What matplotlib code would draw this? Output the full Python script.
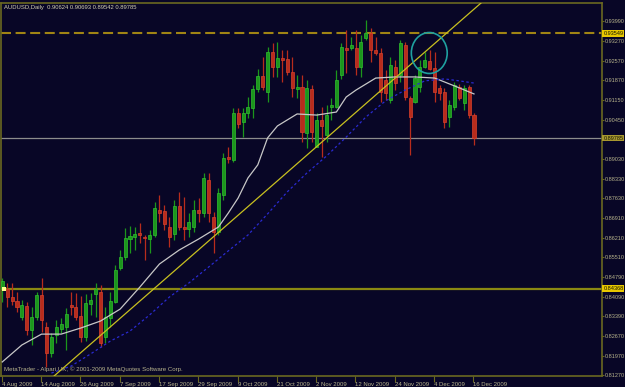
import matplotlib
matplotlib.use('Agg')
import matplotlib.pyplot as plt
from matplotlib.patches import Ellipse
import matplotlib.transforms as mtransforms
import numpy as np

plt.rcParams['font.family'] = ['Liberation Sans Narrow', 'Liberation Sans', 'DejaVu Sans']

# AUDUSD daily bars, 4 Aug 2009 .. 16 Dec 2009
opens = [0.8436, 0.8436, 0.8407, 0.8393, 0.8336, 0.8375, 0.8289, 0.8336, 0.8415, 0.8300,
         0.8206, 0.8271, 0.8292, 0.8300, 0.8379, 0.8371, 0.8339, 0.8264, 0.8382, 0.8418,
         0.8425, 0.8264, 0.8332, 0.8389, 0.8512, 0.8551, 0.8616, 0.8623, 0.8637, 0.8623,
         0.8616, 0.8630, 0.8720, 0.8716, 0.8659, 0.8634, 0.8734, 0.8659, 0.8652, 0.8659,
         0.8720, 0.8709, 0.8828, 0.8695, 0.8641, 0.8774, 0.8910, 0.8900, 0.9069, 0.9036,
         0.9069, 0.9086, 0.9155, 0.9201, 0.9144, 0.9288, 0.9234, 0.9266, 0.9263, 0.9216,
         0.9155, 0.9162, 0.8997, 0.9155, 0.8946, 0.9043, 0.8989, 0.9090, 0.9090, 0.9205,
         0.9302, 0.9302, 0.9302, 0.9234, 0.9338, 0.9356, 0.9295, 0.9284, 0.9187, 0.9115,
         0.9234, 0.9205, 0.9313, 0.9122, 0.9108, 0.9162, 0.9234, 0.9255, 0.9230, 0.9158,
         0.9144, 0.9054, 0.9090, 0.9162, 0.9104, 0.9162, 0.90624]
highs = [0.8476, 0.8458, 0.8458, 0.8425, 0.8397, 0.8389, 0.8371, 0.8425, 0.8476, 0.8318,
         0.8278, 0.8325, 0.8332, 0.8368, 0.8425, 0.8422, 0.8411, 0.8418, 0.8422, 0.8458,
         0.8450, 0.8371, 0.8425, 0.8522, 0.8576, 0.8655, 0.8662, 0.8659, 0.8673, 0.8630,
         0.8648, 0.8749, 0.8774, 0.8738, 0.8695, 0.8756, 0.8785, 0.8767, 0.8709, 0.8756,
         0.8763, 0.8853, 0.8853, 0.8713, 0.8799, 0.8925, 0.8946, 0.9086, 0.9086, 0.9086,
         0.9126, 0.9169, 0.9227, 0.9270, 0.9306, 0.9320, 0.9324, 0.9295, 0.9295, 0.9270,
         0.9205, 0.9205, 0.9187, 0.9169, 0.9069, 0.9090, 0.9097, 0.9122, 0.9223, 0.9320,
         0.9367, 0.9342, 0.9367, 0.9349, 0.9403, 0.9374, 0.9342, 0.9302, 0.9223, 0.9270,
         0.9259, 0.9331, 0.9324, 0.9130, 0.9205, 0.9259, 0.9288, 0.9295, 0.9288, 0.9169,
         0.9158, 0.9115, 0.9180, 0.9173, 0.9169, 0.9169, 0.90693]
lows = [0.8389, 0.8371, 0.8379, 0.8353, 0.8325, 0.8271, 0.8235, 0.8325, 0.8282, 0.8156,
        0.8192, 0.8242, 0.8278, 0.8217, 0.8343, 0.8325, 0.8246, 0.8249, 0.8343, 0.8336,
        0.8228, 0.8242, 0.8300, 0.8386, 0.8504, 0.8540, 0.8565, 0.8576, 0.8601, 0.8540,
        0.8565, 0.8623, 0.8677, 0.8648, 0.8587, 0.8612, 0.8648, 0.8612, 0.8623, 0.8641,
        0.8677, 0.8695, 0.8677, 0.8565, 0.8630, 0.8756, 0.8889, 0.8892, 0.9015, 0.8982,
        0.9051, 0.9051, 0.9144, 0.9151, 0.9108, 0.9198, 0.9198, 0.9180, 0.9205, 0.9126,
        0.9122, 0.8964, 0.8943, 0.8964, 0.8946, 0.8910, 0.8964, 0.9043, 0.9086, 0.9191,
        0.9212, 0.9295, 0.9205, 0.9198, 0.9331, 0.9252, 0.9277, 0.9108, 0.9115, 0.9104,
        0.9151, 0.9180, 0.9115, 0.8918, 0.9104, 0.9144, 0.9230, 0.9223, 0.9108, 0.9115,
        0.9015, 0.9018, 0.9079, 0.9115, 0.9079, 0.9051, 0.89542]
closes = [0.8465, 0.8407, 0.8393, 0.8371, 0.8379, 0.8289, 0.8336, 0.8415, 0.8325, 0.8206,
          0.8264, 0.8300, 0.8310, 0.8346, 0.8371, 0.8336, 0.8264, 0.8386, 0.8397, 0.8436,
          0.8242, 0.8336, 0.8393, 0.8504, 0.8551, 0.8619, 0.8627, 0.8634, 0.8630, 0.8619,
          0.8630, 0.8727, 0.8709, 0.8670, 0.8623, 0.8734, 0.8659, 0.8652, 0.8677, 0.8720,
          0.8709, 0.8835, 0.8709, 0.8641, 0.8781, 0.8907, 0.8903, 0.9069, 0.9029, 0.9069,
          0.9090, 0.9155, 0.9201, 0.9162, 0.9288, 0.9234, 0.9266, 0.9259, 0.9216, 0.9158,
          0.9162, 0.9000, 0.9158, 0.9000, 0.9043, 0.9022, 0.9061, 0.9097, 0.9187, 0.9306,
          0.9295, 0.9313, 0.9234, 0.9324, 0.9356, 0.9295, 0.9284, 0.9144, 0.9140, 0.9241,
          0.9176, 0.9320, 0.9126, 0.9054, 0.9194, 0.9234, 0.9259, 0.9227, 0.9144, 0.9140,
          0.9036, 0.9097, 0.9169, 0.9122, 0.9158, 0.9061, 0.89785]

# date labels every 8 bars
date_bars = [0, 8, 16, 24, 32, 40, 48, 56, 64, 72, 80, 88, 96]
date_labels = ['4 Aug 2009', '14 Aug 2009', '26 Aug 2009', '7 Sep 2009', '17 Sep 2009',
               '29 Sep 2009', '9 Oct 2009', '21 Oct 2009', '2 Nov 2009', '12 Nov 2009',
               '24 Nov 2009', '4 Dec 2009', '16 Dec 2009']

price_ticks = [0.93990, 0.93270, 0.92570, 0.91870, 0.91150, 0.90450, 0.89030, 0.88330,
               0.87630, 0.86910, 0.86210, 0.85510, 0.84790, 0.84090, 0.83390, 0.82670,
               0.81970, 0.81270]

# moving averages (white = fast, blue = slow), sampled at bar numbers
fast_ma_bars = [0, 4, 8, 12, 16, 20, 24, 28, 32, 36, 40, 44, 46, 48, 50, 52, 54, 56, 60,
                64, 68, 70, 72, 76, 80, 84, 88, 92, 96]
fast_ma = [0.8174, 0.8235, 0.8274, 0.8274, 0.8296, 0.8321, 0.8364, 0.8443, 0.8526, 0.8576,
           0.8616, 0.8659, 0.8709, 0.8763, 0.8835, 0.8882, 0.8979, 0.9022, 0.9065,
           0.9061, 0.9072, 0.9126, 0.9151, 0.9194, 0.9198, 0.9198, 0.9194, 0.9166, 0.9137]
slow_ma_bars = [10, 14, 18, 22, 26, 30, 34, 38, 42, 46, 50, 54, 58, 62, 66, 70, 74, 78,
                82, 86, 90, 93, 96]
slow_ma = [0.8134, 0.8159, 0.8203, 0.8249, 0.8285, 0.8343, 0.8407, 0.8458, 0.8515, 0.8573,
           0.8630, 0.8706, 0.8785, 0.8853, 0.8914, 0.8982, 0.9054, 0.9112, 0.9151, 0.9184,
           0.9191, 0.9184, 0.9176]

trend_bars = [10, 97]
trend_prices = [0.8115, 0.9457]

level_resist = 0.93549
level_bid = 0.89785
level_support = 0.84368

circle_bar, circle_price = 86.9, 0.9284

title_text = 'AUDUSD,Daily  0.90624 0.90693 0.89542 0.89785'
credit_text = 'MetaTrader - Alpari UK, \u00a9 2001-2009 MetaQuotes Software Corp.'

bg = '#080626'
frame = '#6a6820'
txt = '#b8b48c'
up_col, up_edge = '#1c961c', '#2fbf2f'
dn_col, dn_edge = '#b82c1c', '#d8402c'
fs = 4.3
fs_price = 4.0

fig = plt.figure(figsize=(6.25, 3.87), dpi=100, facecolor=bg)
ax = fig.add_axes([1.5 / 625, 11 / 387, 600 / 625, 373.5 / 387], facecolor=bg)

o = np.array(opens)
h = np.array(highs)
l = np.array(lows)
c = np.array(closes)
idx = np.arange(len(o))
up = c >= o
cols = np.where(up, up_col, dn_col)
edges = np.where(up, up_edge, dn_edge)

# wicks then bodies
ax.vlines(idx, l, h, colors=cols, linewidth=0.9, zorder=3)
body_h = np.maximum(np.abs(c - o), 0.0004)
ax.bar(idx, body_h, bottom=np.minimum(o, c), width=0.62, color=cols,
       edgecolor=edges, linewidth=0.5, zorder=4)

# moving averages
ax.plot(fast_ma_bars, fast_ma, color='#c8c8c8', linewidth=0.9, zorder=5)
ax.plot(slow_ma_bars, slow_ma, color='#2a2ad0', linewidth=0.9,
        linestyle=(0, (2, 2)), zorder=5)

# trend line and levels
ax.axline((trend_bars[0], trend_prices[0]), (trend_bars[1], trend_prices[1]),
          color='#c8c020', linewidth=0.9, zorder=6)
ax.axhline(level_resist, color='#a08414', linewidth=1.5, dashes=(4.8, 2.2), zorder=2)
ax.axhline(level_bid, color='#8c8c8c', linewidth=0.9, zorder=2)
ax.axhline(level_support, color='#8a8812', linewidth=1.6, zorder=2)
ax.plot([0.3], [level_support], marker='s', markersize=2.6, color='#ffff90',
        markeredgewidth=0, zorder=7)

ax.add_patch(Ellipse((circle_bar, circle_price), 7.3, 0.0147, fill=False,
                     edgecolor='#1fa0a0', linewidth=1.2, zorder=7))

ax.set_xlim(-0.15, 121.95)
ax.set_ylim(0.81235, 0.94655)

for s in ax.spines.values():
    s.set_color(frame)
    s.set_linewidth(1.2)

ax.yaxis.tick_right()
ax.set_yticks(price_ticks)
ax.set_yticklabels(['%.5f' % p for p in price_ticks])
ax.tick_params(axis='y', direction='out', length=1.5, width=0.8, color=frame,
               labelcolor=txt, labelsize=fs_price, pad=0.8)

ax.set_xticks([b - 0.12 for b in date_bars])
ax.set_xticklabels(date_labels)
ax.tick_params(axis='x', direction='out', length=4, width=0.8, color=frame,
               labelcolor=txt, labelsize=fs, pad=0.5)
for lab in ax.get_xticklabels():
    lab.set_ha('left')

# price boxes on the right scale
blend = mtransforms.blended_transform_factory(ax.transAxes, ax.transData)
for val, fc in [(level_resist, '#e8c800'), (level_bid, '#a89830'), (level_support, '#e8c800')]:
    ax.text(1.003, val, '%.5f' % val, transform=blend, ha='left', va='center',
            fontsize=fs_price, color='#141400',
            bbox=dict(boxstyle='square,pad=0.15', fc=fc, ec='none'), zorder=10)

ax.text(0.005, 0.992, title_text, transform=ax.transAxes, ha='left', va='top',
        fontsize=4.2, color='#d4d0b0')
ax.text(0.004, 0.012, credit_text, transform=ax.transAxes, ha='left', va='bottom',
        fontsize=4.4, color=txt)

fig.savefig('out.png', dpi=100, facecolor=bg)
